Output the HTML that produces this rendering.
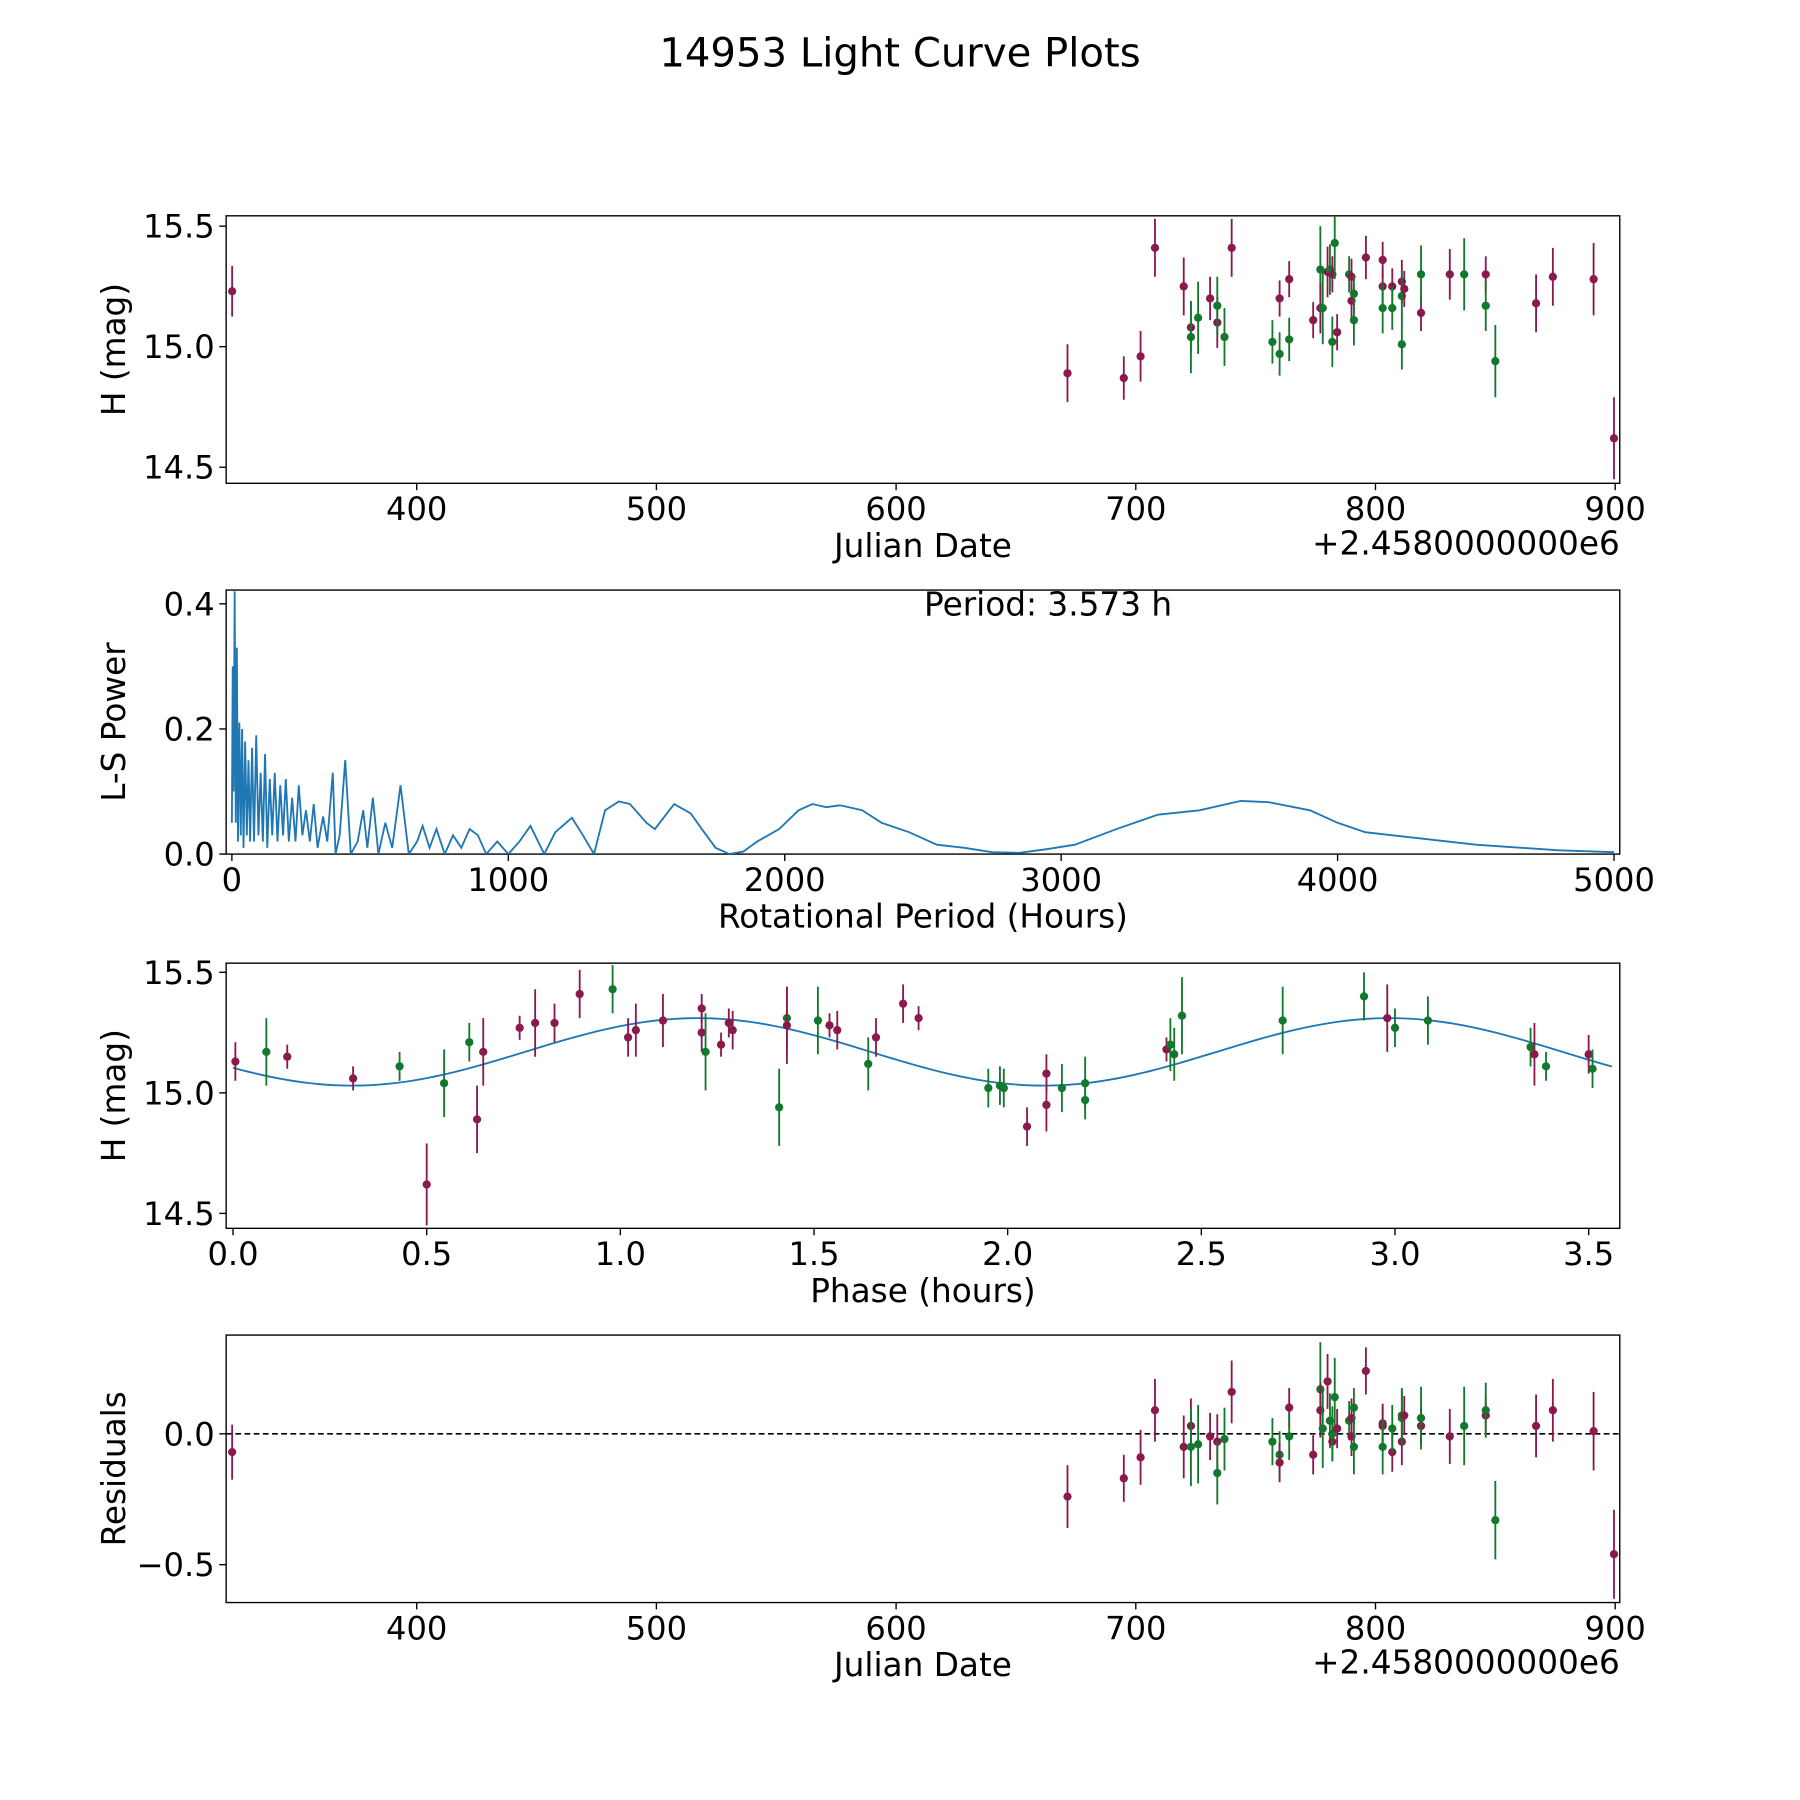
<!DOCTYPE html>
<html><head><meta charset="utf-8"><style>
html,body{margin:0;padding:0;background:#fff;}
svg{display:block;font-family:"DejaVu Sans","Liberation Sans",sans-serif;}
</style></head><body>
<svg id="fig" width="1800" height="1800" viewBox="0 0 1568 1568" xmlns="http://www.w3.org/2000/svg">
<rect width="1568" height="1568" fill="#fff"/>
<text x="784" y="58" font-size="35" text-anchor="middle">14953 Light Curve Plots</text>
</svg>
<script>
// ---- Panel 1 / 4 data (Julian date offset from 2458000) ----
const dates = [323,671.5,695,702,708,720,723,723,726,731,734,734,737,740,757,760,760,764,764,774,777,777,778,780,781,782,782,783,784,789,790,790,791,791,796,803,803,803,807,807,811,811,811,812,819,819,831,837,846,846,850,867,874,891,899.5];
const mags = [15.23,14.89,14.87,14.96,15.41,15.25,15.08,15.04,15.12,15.20,15.10,15.17,15.04,15.41,15.02,14.97,15.20,15.28,15.03,15.11,15.32,15.16,15.16,15.31,15.32,15.30,15.02,15.43,15.06,15.30,15.29,15.19,15.11,15.22,15.37,15.36,15.25,15.16,15.25,15.16,15.27,15.01,15.21,15.24,15.14,15.30,15.30,15.30,15.30,15.17,14.94,15.18,15.29,15.28,14.62];
const errs = [0.105,0.12,0.09,0.105,0.12,0.12,0.105,0.15,0.15,0.09,0.105,0.12,0.12,0.12,0.09,0.09,0.075,0.075,0.09,0.075,0.18,0.105,0.15,0.105,0.105,0.075,0.105,0.15,0.075,0.075,0.075,0.075,0.105,0.075,0.09,0.075,0.075,0.105,0.075,0.09,0.09,0.105,0.105,0.075,0.075,0.12,0.105,0.15,0.075,0.105,0.15,0.12,0.12,0.15,0.17];
const bands = "mmmmmmmggmmggmggmmgmgmgmgmggmgmmggmmmgmgmggmmgmgmggmmmm";
const residuals = [-0.07,-0.24,-0.17,-0.09,0.09,-0.05,0.03,-0.05,-0.04,-0.01,-0.03,-0.15,-0.02,0.16,-0.03,-0.08,-0.11,0.10,-0.01,-0.08,0.17,0.09,0.02,0.20,0.05,-0.03,0.0,0.14,0.02,0.05,0.06,-0.01,-0.05,0.10,0.24,0.04,0.03,-0.05,-0.07,0.02,-0.03,0.07,0.06,0.07,0.03,0.06,-0.01,0.03,0.07,0.09,-0.33,0.03,0.09,0.01,-0.46];
// ---- Panel 3 data (phase folded) ----
const phases = [0.006,0.086,0.14,0.31,0.43,0.50,0.545,0.61,0.63,0.646,0.74,0.78,0.83,0.895,0.98,1.02,1.04,1.11,1.21,1.21,1.22,1.26,1.28,1.29,1.41,1.43,1.43,1.51,1.54,1.56,1.64,1.66,1.73,1.77,1.95,1.98,1.99,2.05,2.10,2.10,2.14,2.20,2.20,2.41,2.42,2.43,2.45,2.71,2.92,2.98,3.00,3.085,3.35,3.36,3.39,3.50,3.51];
const phaseMags = [15.13,15.17,15.15,15.06,15.11,14.62,15.04,15.21,14.89,15.17,15.27,15.29,15.29,15.41,15.43,15.23,15.26,15.30,15.25,15.35,15.17,15.20,15.29,15.26,14.94,15.31,15.28,15.30,15.28,15.26,15.12,15.23,15.37,15.31,15.02,15.03,15.02,14.86,15.08,14.95,15.02,15.04,14.97,15.18,15.20,15.16,15.32,15.30,15.40,15.31,15.27,15.30,15.19,15.16,15.11,15.16,15.10];
const phaseErrs = [0.08,0.14,0.05,0.05,0.06,0.17,0.14,0.08,0.14,0.14,0.05,0.14,0.08,0.1,0.1,0.08,0.11,0.11,0.08,0.06,0.16,0.05,0.06,0.08,0.16,0.13,0.16,0.14,0.05,0.08,0.11,0.08,0.08,0.05,0.08,0.08,0.08,0.08,0.08,0.11,0.1,0.11,0.08,0.05,0.11,0.11,0.16,0.14,0.1,0.14,0.08,0.1,0.08,0.13,0.06,0.08,0.08];
const phaseBands = "mgmmgmggmmmmmmgmmmmmgmmmggmgmmgmmmgggmmmggg".concat("mgggggmgggmgmgm");
// fit: mean, amplitude, peak phase, curve period (hours)
const fitParams = [15.17, 0.14, 1.2, 1.786];
// ---- Panel 2 periodogram ----
const periods = [0,3,6,10,14,18,22,27,32,37,42,48,54,60,66,73,80,88,96,104,112,120,128,137,146,155,165,175,185,195,206,218,230,242,255,268,282,296,310,330,345,365,375,390,410,430,455,475,490,510,530,555,580,610,640,670,690,715,740,770,800,830,860,890,920,960,1000,1040,1080,1130,1170,1230,1270,1310,1350,1400,1440,1500,1530,1600,1660,1700,1750,1800,1850,1900,1980,2050,2100,2150,2200,2280,2350,2450,2550,2650,2750,2850,2950,3050,3200,3350,3500,3650,3750,3900,4000,4100,4300,4500,4800,5000];
const power = [0.05,0.3,0.1,0.42,0.05,0.33,0.02,0.21,0.03,0.2,0.01,0.18,0.03,0.15,0.02,0.17,0.02,0.19,0.03,0.13,0.02,0.16,0.01,0.12,0.03,0.13,0.02,0.11,0.03,0.12,0.02,0.09,0.02,0.11,0.03,0.07,0.02,0.08,0.01,0.06,0.02,0.13,0.0,0.03,0.15,0.0,0.02,0.07,0.01,0.09,0.0,0.05,0.01,0.11,0.0,0.02,0.045,0.01,0.04,0.0,0.03,0.01,0.04,0.03,0.0,0.02,0.0,0.02,0.045,0.0,0.035,0.058,0.03,0.0,0.07,0.084,0.08,0.05,0.04,0.08,0.065,0.04,0.01,0.0,0.004,0.02,0.04,0.07,0.08,0.075,0.078,0.07,0.05,0.035,0.015,0.01,0.003,0.002,0.008,0.015,0.04,0.063,0.07,0.085,0.083,0.07,0.05,0.035,0.025,0.015,0.006,0.003];
const bestPeriodLabel = "Period: 3.573 h";

const NS="http://www.w3.org/2000/svg";
const svg=document.getElementById('fig');
const COL={m:'#8a1a4e',g:'#12782c'};
const TICK=28, LAB=28.5;
function mk(tag,attrs,parent){const e=document.createElementNS(NS,tag);for(const k in attrs)e.setAttribute(k,attrs[k]);(parent||svg).appendChild(e);return e;}
function txt(x,y,s,size,anchor,parent){const t=mk('text',{x:x,y:y,'font-size':size,'text-anchor':anchor||'middle'},parent);t.textContent=s;return t;}

function panel(name,x0,x1,y0,y1,xs,ys,xticks,yticks,xlabel,ylabel,xfmt,yfmt){
  const g=mk('g',{});
  
  
  const ax=mk('rect',{x:x0,y:y0,width:x1-x0,height:y1-y0,fill:'none',stroke:'#000','stroke-width':1.2},g);
  
  
  xticks.forEach(v=>{const x=xs(v);mk('line',{x1:x,x2:x,y1:y1,y2:y1+6,stroke:'#000','stroke-width':1.2},g);
    const t=txt(x,y1+32,xfmt(v),TICK,'middle',g);
    
    });
  yticks.forEach(v=>{const y=ys(v);mk('line',{x1:x0-6,x2:x0,y1:y,y2:y,stroke:'#000','stroke-width':1.2},g);
    const t=txt(x0-10,y+10,yfmt(v),TICK,'end',g);
    
    });
  const xl=txt((x0+x1)/2,y1+64,xlabel,LAB,'middle',g);
  
  
  const yl=txt(0,0,ylabel,LAB,'middle',g);
  yl.setAttribute('transform',`translate(${x0-88},${(y0+y1)/2}) rotate(-90)`);
  
  
  const clip='c'+name;const cp=mk('clipPath',{id:clip},g);mk('rect',{x:x0,y:y0,width:x1-x0,height:y1-y0},cp);
  const inner=mk('g',{'clip-path':`url(#${clip})`},g);
  return {g,inner};
}
function pts(parent,xsArr,ysArr,eArr,bandStr,xs,ys){
  xsArr.forEach((xv,i)=>{const c=COL[bandStr[i]||'m'];const x=xs(xv);
    const l=mk('line',{x1:x,x2:x,y1:ys(ysArr[i]-eArr[i]),y2:ys(ysArr[i]+eArr[i]),stroke:c,'stroke-width':1.6},parent);
    
    
    const p=mk('circle',{cx:x,cy:ys(ysArr[i]),r:3.6,fill:c},parent);
    
    });
}
const f1=v=>v.toFixed(1);
// Panel 1
const jx=v=>363+(v-400)*2.088, my1=v=>197+(15.5-v)*210;
const P1=panel('light-curve-panel',197,1411,188,421,jx,my1,[400,500,600,700,800,900],[14.5,15.0,15.5],'Julian Date','H (mag)',v=>String(v),f1);
pts(P1.inner,dates,mags,errs,bands,jx,my1);
let o=txt(1411,483,'+2.4580000000e6',LAB,'end',P1.g);
// Panel 2
const px=v=>202+v/5000*1204, py=v=>744-v*545;
const P2=panel('periodogram-panel',197,1411,514,744,px,py,[0,1000,2000,3000,4000,5000],[0.0,0.2,0.4],'Rotational Period (Hours)','L-S Power',v=>String(v),f1);
const pl=mk('polyline',{points:periods.map((p,i)=>px(p)+','+py(power[i])).join(' '),fill:'none',stroke:'#1f77b4','stroke-width':1.6},P2.inner);


o=txt(913,536,bestPeriodLabel,LAB,'middle',P2.g);
// Panel 3
const phx=v=>203+v*337.4, my3=v=>847+(15.5-v)*210;
const P3=panel('phase-panel',197,1411,839,1070,phx,my3,[0,0.5,1,1.5,2,2.5,3,3.5],[14.5,15.0,15.5],'Phase (hours)','H (mag)',f1,f1);
const cps=[];for(let p=0;p<=3.58;p+=0.02){cps.push(phx(p)+','+my3(fitParams[0]+fitParams[1]*Math.cos(2*Math.PI*(p-fitParams[2])/fitParams[3])));}
const fl=mk('polyline',{points:cps.join(' '),fill:'none',stroke:'#1f77b4','stroke-width':1.6},P3.inner);


pts(P3.inner,phases,phaseMags,phaseErrs,phaseBands,phx,my3);
// Panel 4
const ry=v=>1249-v*228;
const P4=panel('residuals-panel',197,1411,1163,1396,jx,ry,[400,500,600,700,800,900],[-0.5,0.0],'Julian Date','Residuals',v=>String(v),v=>v<0?'\u22120.5':'0.0');
const zl=mk('line',{x1:197,x2:1411,y1:ry(0),y2:ry(0),stroke:'#000','stroke-width':1.4,'stroke-dasharray':'5,3'},P4.inner);


pts(P4.inner,dates,residuals,errs,bands,jx,ry);
o=txt(1411,1458,'+2.4580000000e6',LAB,'end',P4.g);
</script>
</body></html>
